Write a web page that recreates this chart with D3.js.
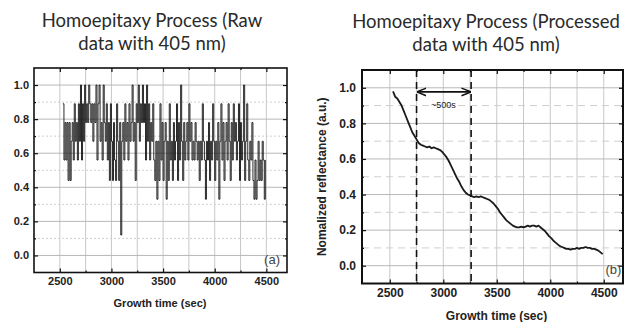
<!DOCTYPE html>
<html>
<head>
<meta charset="utf-8">
<script src="https://cdn.jsdelivr.net/npm/d3@7"></script>
<style>
  html, body { margin: 0; padding: 0; background: #fff; }
  svg { display: block; }
</style>
</head>
<body>
<div id="chart"></div>
<script>
const width = 624,
    height = 322;

// raw signal, sampled every 10 s from 2530 s
const rawStart = 2530, rawStep = 10;
const rawValues = [
    0.89, 0.56, 0.78, 0.56, 0.78, 0.44, 0.78, 0.44, 0.67, 0.78,
    0.56, 0.89, 0.67, 0.78, 0.56, 0.89, 0.67, 1.00, 0.56, 0.89,
    0.67, 1.00, 0.78, 0.89, 0.78, 1.00, 0.89, 0.78, 0.89, 0.67,
    0.89, 0.78, 1.00, 0.56, 0.89, 1.00, 0.67, 0.78, 0.56, 1.00,
    0.78, 0.67, 0.89, 0.56, 0.78, 0.44, 0.89, 0.67, 0.44, 0.78,
    0.56, 0.44, 0.89, 0.67, 0.44, 0.78, 0.12, 0.67, 0.78, 0.56,
    0.89, 0.67, 0.78, 0.56, 0.89, 0.67, 0.78, 1.00, 0.67, 0.78,
    0.44, 0.89, 0.78, 1.00, 0.67, 0.89, 0.78, 1.00, 0.78, 0.89,
    0.56, 1.00, 0.67, 0.89, 0.56, 0.78, 0.67, 0.89, 0.56, 0.44,
    0.67, 0.33, 0.67, 0.44, 0.89, 0.56, 0.78, 0.44, 0.67, 0.78,
    0.33, 0.67, 0.44, 0.89, 0.56, 0.67, 0.44, 0.78, 0.56, 0.67,
    0.89, 0.44, 0.78, 0.56, 1.00, 0.67, 0.44, 0.78, 0.56, 0.67,
    0.78, 0.56, 0.89, 0.67, 0.78, 0.56, 0.67, 0.56, 0.78, 0.67,
    0.56, 0.67, 0.44, 0.67, 0.56, 0.89, 0.67, 0.56, 0.33, 0.67,
    0.56, 0.78, 0.44, 0.67, 0.56, 0.89, 0.67, 0.44, 0.67, 0.56,
    0.78, 0.33, 0.67, 0.89, 0.56, 0.78, 0.44, 0.67, 0.78, 0.56,
    0.89, 0.67, 0.44, 0.78, 0.56, 0.89, 0.67, 0.78, 0.56, 0.67,
    0.89, 0.44, 0.78, 0.56, 0.67, 1.00, 0.44, 0.67, 0.89, 0.56,
    0.44, 0.67, 0.56, 0.78, 0.44, 0.33, 0.56, 0.33, 0.44, 0.67,
    0.44, 0.56, 0.44, 0.67, 0.56, 0.33, 0.56
];

// processed (normalized) signal, every 20 s from 2530 s
const procStart = 2530, procStep = 20;
const procValues = [
    0.98, 0.95, 0.94, 0.92, 0.90, 0.87, 0.84, 0.81, 0.78, 0.75,
    0.73, 0.71, 0.69, 0.68, 0.675, 0.67, 0.665, 0.67, 0.66, 0.665,
    0.66, 0.655, 0.65, 0.64, 0.625, 0.61, 0.59, 0.565, 0.54, 0.515,
    0.49, 0.47, 0.445, 0.425, 0.41, 0.40, 0.395, 0.39, 0.385, 0.39,
    0.385, 0.39, 0.385, 0.38, 0.375, 0.37, 0.36, 0.35, 0.335, 0.32,
    0.30, 0.285, 0.27, 0.255, 0.245, 0.235, 0.225, 0.22, 0.215, 0.215,
    0.22, 0.215, 0.22, 0.225, 0.22, 0.225, 0.225, 0.22, 0.225, 0.215,
    0.205, 0.195, 0.18, 0.165, 0.155, 0.14, 0.13, 0.12, 0.11, 0.105,
    0.10, 0.095, 0.095, 0.09, 0.095, 0.095, 0.10, 0.095, 0.10, 0.10,
    0.105, 0.10, 0.10, 0.095, 0.095, 0.09, 0.085, 0.075, 0.065
];

const xTicks = [2500, 3000, 3500, 4000, 4500];
const xMinor = [2750, 3250, 3750, 4250];
const yTicks = [0, 0.2, 0.4, 0.6, 0.8, 1.0];
const yMinor = [0.1, 0.3, 0.5, 0.7, 0.9];

// ~500 s period markers on panel (b)
const periodMarks = [2750, 3260];

const svg = d3.select("#chart")
    .append("svg")
    .attr("width", width)
    .attr("height", height)
    .style("font-family", "'Liberation Sans', Arial, sans-serif");

function panel(opt) {
    const x = d3.scaleLinear().domain(opt.xDomain).range([opt.left, opt.right]);
    const y = d3.scaleLinear().domain([-0.1, 1.1]).range([opt.bottom, opt.top]);
    const g = svg.append("g");

    // grid
    g.selectAll("line.vgrid")
        .data(xTicks.concat(xMinor))
        .join("line")
        .attr("class", "vgrid")
        .attr("x1", d => x(d)).attr("x2", d => x(d))
        .attr("y1", opt.top).attr("y2", opt.bottom)
        .attr("stroke", "#c8c8c8").attr("stroke-width", 1);

    g.selectAll("line.hgrid")
        .data(yTicks)
        .join("line")
        .attr("class", "hgrid")
        .attr("x1", opt.left).attr("x2", opt.right)
        .attr("y1", d => y(d)).attr("y2", d => y(d))
        .attr("stroke", "#b8b8b8").attr("stroke-width", 1);

    g.selectAll("line.hminor")
        .data(yMinor)
        .join("line")
        .attr("class", "hminor")
        .attr("x1", opt.left).attr("x2", opt.right)
        .attr("y1", d => y(d)).attr("y2", d => y(d))
        .attr("stroke", "#cfcfcf").attr("stroke-width", 1)
        .attr("stroke-dasharray", opt.minorDash);

    // axes, ticks pointing inward
    const fmtY = d3.format(".1f");
    const fmtX = d3.format("d");
    g.append("g")
        .attr("transform", `translate(0,${opt.bottom})`)
        .call(d3.axisBottom(x).tickValues(xTicks).tickFormat(fmtX).tickSize(-4).tickPadding(opt.xPad));
    g.append("g")
        .attr("transform", `translate(${opt.left},0)`)
        .call(d3.axisLeft(y).tickValues(yTicks).tickFormat(fmtY).tickSize(-4).tickPadding(opt.yPad));
    g.append("g")
        .attr("transform", `translate(0,${opt.top})`)
        .call(d3.axisTop(x).tickValues(xTicks).tickFormat("").tickSize(-4));
    g.append("g")
        .attr("transform", `translate(${opt.right},0)`)
        .call(d3.axisRight(y).tickValues(yTicks).tickFormat("").tickSize(-4));

    // minor ticks
    g.append("g").attr("transform", `translate(0,${opt.bottom})`)
        .call(d3.axisBottom(x).tickValues(xMinor).tickFormat("").tickSize(-2));
    g.append("g").attr("transform", `translate(0,${opt.top})`)
        .call(d3.axisTop(x).tickValues(xMinor).tickFormat("").tickSize(-2));
    g.append("g").attr("transform", `translate(${opt.left},0)`)
        .call(d3.axisLeft(y).tickValues(yMinor).tickFormat("").tickSize(-2));
    g.append("g").attr("transform", `translate(${opt.right},0)`)
        .call(d3.axisRight(y).tickValues(yMinor).tickFormat("").tickSize(-2));

    g.selectAll(".domain").remove();
    g.selectAll(".tick line").attr("stroke", "#111").attr("stroke-width", 1.2);
    g.selectAll(".tick text")
        .attr("fill", "#222")
        .attr("font-size", opt.tickFont)
        .attr("font-weight", "bold");

    // data
    const line = d3.line()
        .curve(opt.curve)
        .x((d, i) => x(opt.start + i * opt.step))
        .y(d => y(d));

    g.append("path")
        .datum(opt.values)
        .attr("fill", "none")
        .attr("stroke", opt.lineColor)
        .attr("stroke-width", opt.lineWidth)
        .attr("stroke-linejoin", "round")
        .attr("d", line);

    // frame
    g.append("rect")
        .attr("x", opt.left).attr("y", opt.top)
        .attr("width", opt.right - opt.left)
        .attr("height", opt.bottom - opt.top)
        .attr("fill", "none")
        .attr("stroke", "#111")
        .attr("stroke-width", opt.frameWidth);

    // x title
    g.append("text")
        .attr("x", (opt.left + opt.right) / 2 + opt.xTitleShift)
        .attr("y", opt.xTitleY)
        .attr("text-anchor", "middle")
        .attr("font-size", opt.titleFont)
        .attr("font-weight", "bold")
        .attr("fill", "#222")
        .text("Growth time (sec)");

    // panel letter
    g.append("text")
        .attr("x", x(opt.tag[0]))
        .attr("y", y(opt.tag[1]))
        .attr("text-anchor", "middle")
        .attr("dominant-baseline", "middle")
        .attr("font-size", 13)
        .attr("fill", "#444")
        .text(opt.tag[2]);

    // heading
    const head = svg.append("text")
        .attr("text-anchor", "middle")
        .attr("font-family", "Lato, 'Open Sans', sans-serif")
        .attr("font-size", 18.5)
        .attr("fill", "#2a2a2a");
    head.selectAll("tspan")
        .data(opt.heading)
        .join("tspan")
        .attr("x", opt.headX)
        .attr("y", (d, i) => opt.headY + i * 23)
        .text(d => d);

    return { g, x, y };
}

const a = panel({
    xDomain: [2250, 4700], left: 34, right: 287, top: 68, bottom: 272.5,
    values: rawValues, start: rawStart, step: rawStep, curve: d3.curveStepAfter,
    lineColor: "#111", lineWidth: 0.9, frameWidth: 1.6,
    minorDash: "2,2", xPad: 5, yPad: 5, tickFont: 11, titleFont: 11,
    xTitleShift: -0.5, xTitleY: 307, tag: [4555, -0.03, "(a)"],
    heading: ["Homoepitaxy Process (Raw", "data with 405 nm)"], headX: 152, headY: 27
});

const b = panel({
    xDomain: [2240, 4680], left: 362, right: 623, top: 70, bottom: 283.5,
    values: procValues, start: procStart, step: procStep, curve: d3.curveLinear,
    lineColor: "#1a1a1a", lineWidth: 1.8, frameWidth: 2,
    minorDash: "7,5", xPad: 5, yPad: 6, tickFont: 12, titleFont: 12,
    xTitleShift: 4, xTitleY: 320, tag: [4590, -0.025, "(b)"],
    heading: ["Homoepitaxy Process (Processed", "data with 405 nm)"], headX: 486, headY: 28
});

// y title on panel (b)
svg.append("text")
    .attr("transform", `translate(326,${(70 + 283.5) / 2}) rotate(-90)`)
    .attr("text-anchor", "middle")
    .attr("font-size", 12)
    .attr("font-weight", "bold")
    .attr("fill", "#222")
    .text("Nomalized reflectance (a.u.)");

// dashed period markers
b.g.selectAll("line.period")
    .data(periodMarks)
    .join("line")
    .attr("class", "period")
    .attr("x1", d => b.x(d)).attr("x2", d => b.x(d))
    .attr("y1", 70).attr("y2", 283.5)
    .attr("stroke", "#111")
    .attr("stroke-width", 1.6)
    .attr("stroke-dasharray", "7,5");

const defs = svg.append("defs");
defs.append("marker")
    .attr("id", "arr")
    .attr("viewBox", "0 0 10 10")
    .attr("refX", 9).attr("refY", 5)
    .attr("markerWidth", 6).attr("markerHeight", 6)
    .attr("orient", "auto-start-reverse")
    .append("path")
    .attr("d", "M0,1 L10,5 L0,9")
    .attr("fill", "none")
    .attr("stroke", "#111")
    .attr("stroke-width", 1.5);

b.g.append("line")
    .attr("x1", b.x(periodMarks[0]) + 1).attr("x2", b.x(periodMarks[1]) - 1)
    .attr("y1", b.y(0.977)).attr("y2", b.y(0.977))
    .attr("stroke", "#111")
    .attr("stroke-width", 1.6)
    .attr("marker-start", "url(#arr)")
    .attr("marker-end", "url(#arr)");

b.g.append("text")
    .attr("x", b.x(3000))
    .attr("y", b.y(0.9))
    .attr("text-anchor", "middle")
    .attr("dominant-baseline", "middle")
    .attr("font-size", 9)
    .attr("fill", "#222")
    .text("~500s");
</script>
</body>
</html>
